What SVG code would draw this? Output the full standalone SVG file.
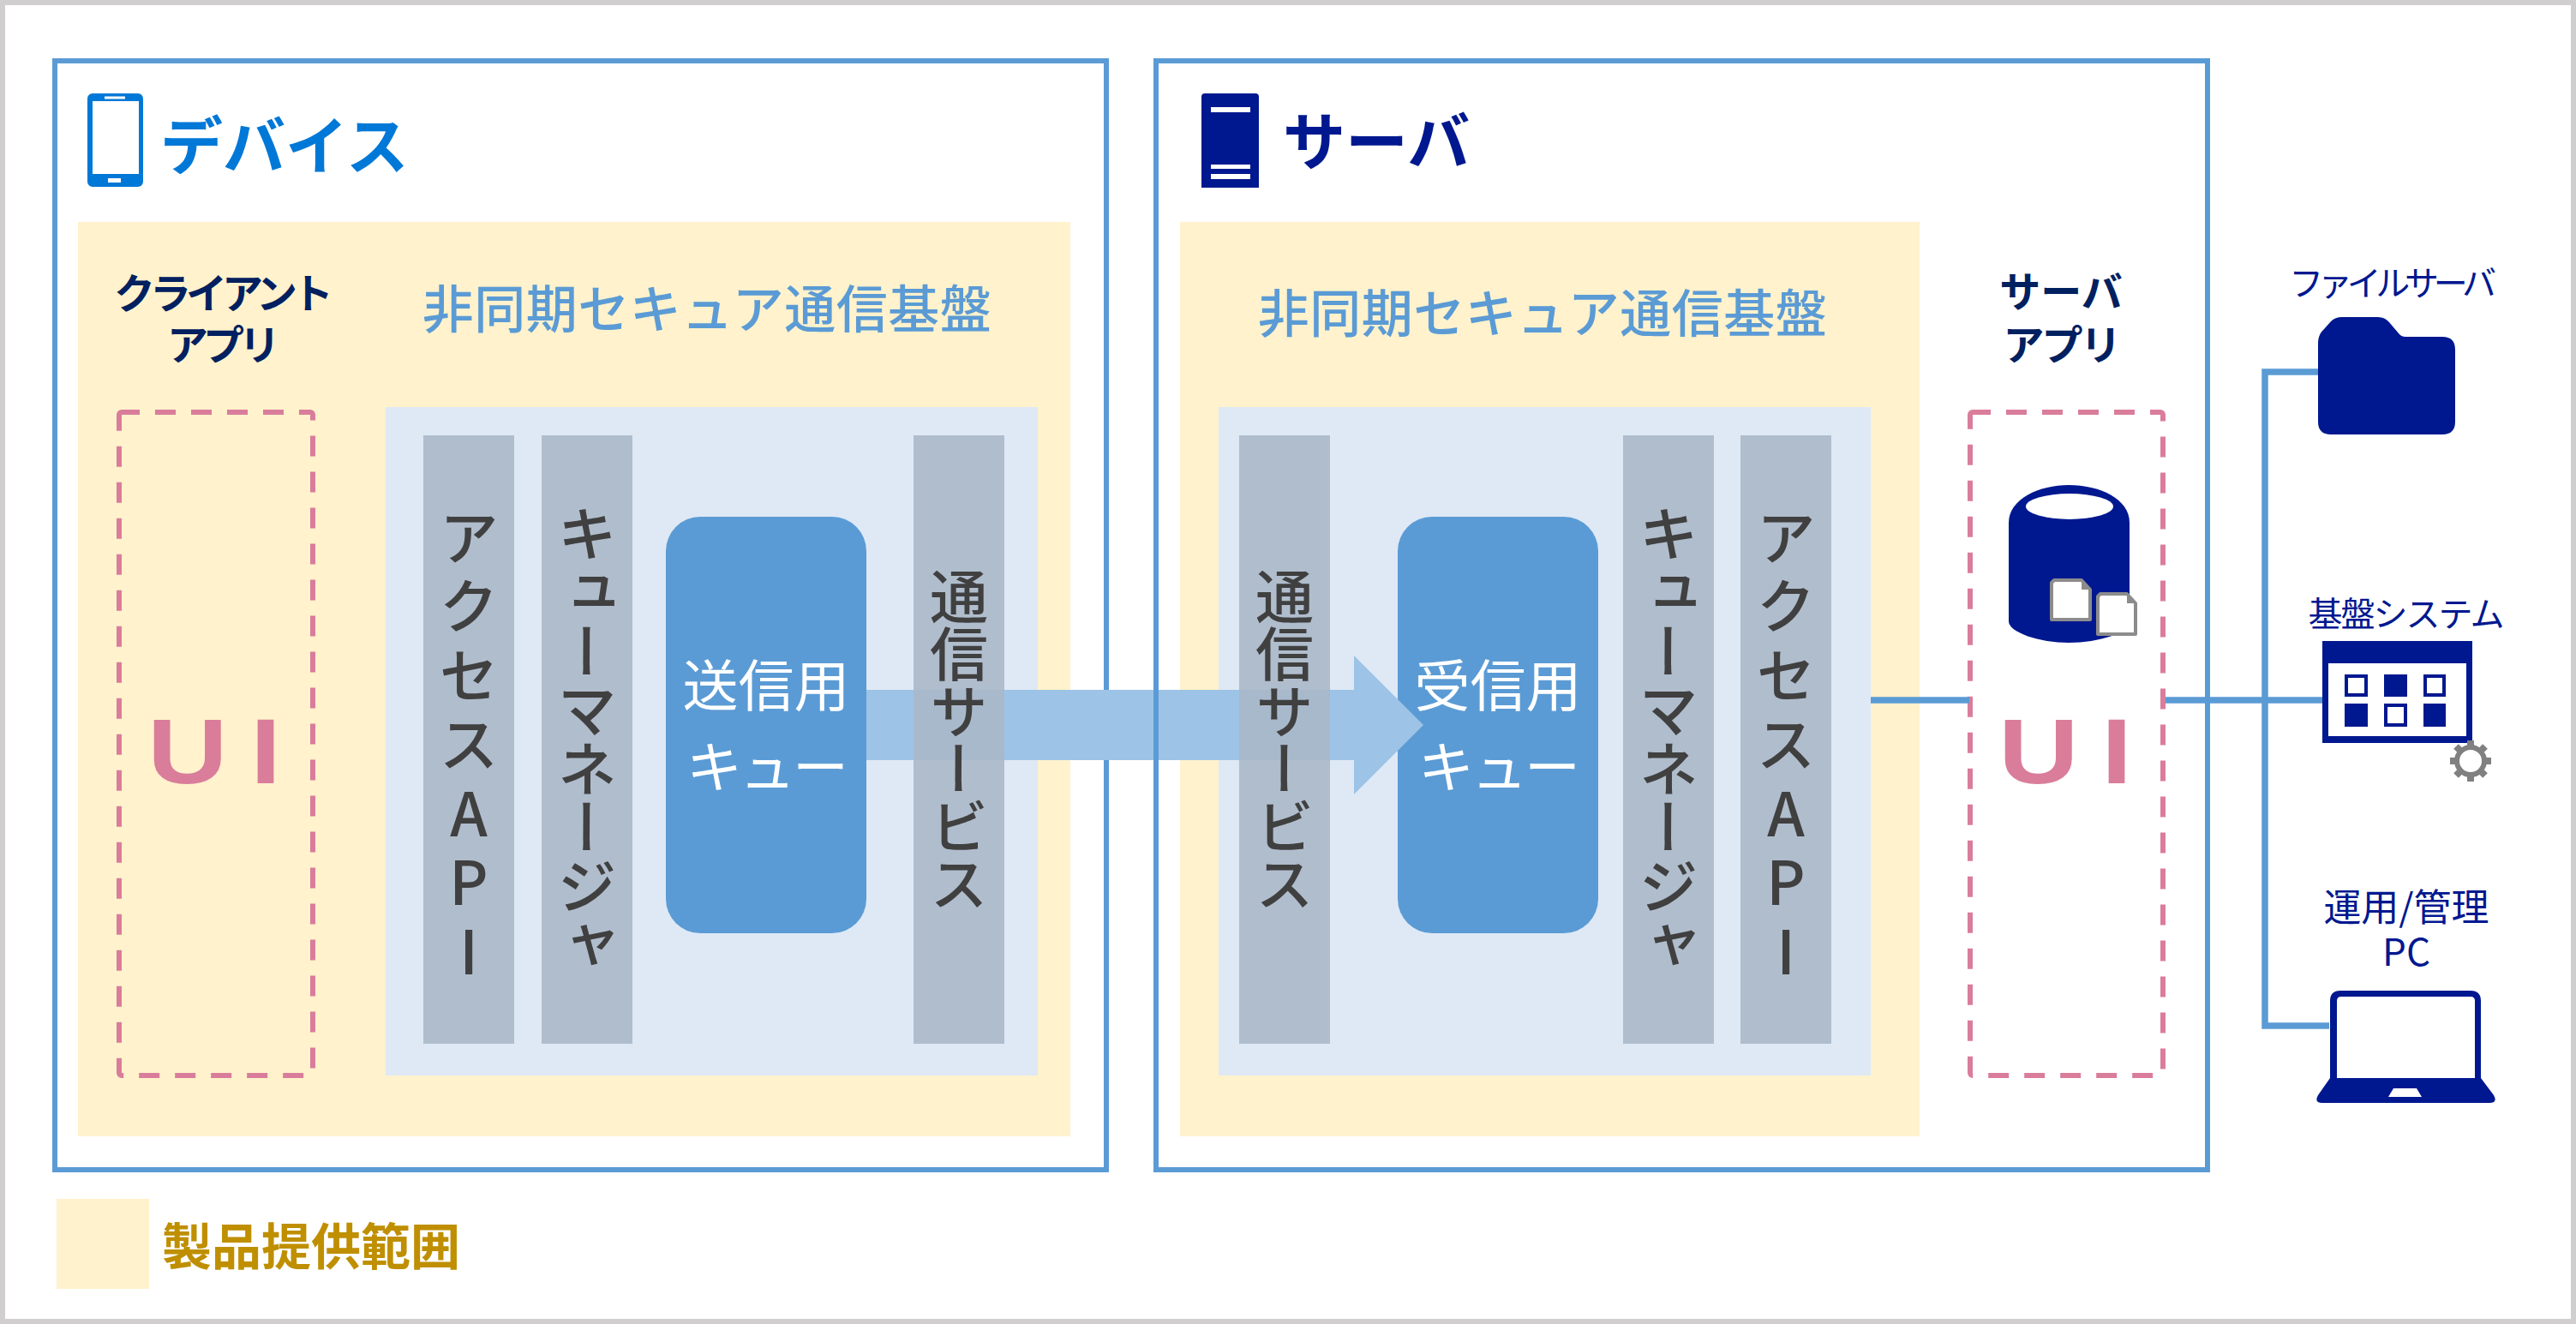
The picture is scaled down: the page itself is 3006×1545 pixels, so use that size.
<svg xmlns="http://www.w3.org/2000/svg" width="3006" height="1545" viewBox="0 0 3006 1545">
<style>
text{font-family:"Noto Sans CJK JP","Noto Sans",sans-serif}
.frame{fill:none;stroke:#5B9BD5;stroke-width:6}
.prod{fill:#FFF2CC}
.lite{fill:#DEE9F5}
.bar{fill:#ABB8C9;fill-opacity:.9}
.queue{fill:#5B9BD5}
.dash{fill:none;stroke:#D97D9B;stroke-width:6;stroke-dasharray:24 18;stroke-dashoffset:3}
.ui{font-size:108px;font-weight:700;fill:#D97D9B;font-family:"Liberation Sans",sans-serif}
.ttl{font-size:60px;font-weight:500;fill:#5B9BD5;text-anchor:middle;letter-spacing:.5px}
.v{font-size:70px;fill:#404040;writing-mode:vertical-rl;text-orientation:upright;font-weight:500}
.q{font-size:65px;fill:#fff;text-anchor:middle}
.app{font-size:48px;font-weight:700;fill:#002060;text-anchor:middle;letter-spacing:-6px}
.rl{font-size:40px;fill:#00188F;text-anchor:middle}
.navy{fill:#00188F}
.wire{fill:none;stroke:#5B9BD5;stroke-width:7.5}
</style>
<rect width="3006" height="1545" fill="#D0CECE"/>
<rect x="6" y="6" width="2994" height="1533" fill="#fff"/>

<g id="device-frame"><rect class="frame" x="64" y="71" width="1227" height="1294"/></g>
<g id="device-product"><rect class="prod" x="91" y="259" width="1158" height="1067"/><rect class="lite" x="450" y="475" width="761" height="780"/></g>
<g id="server-product"><rect class="prod" x="1377" y="259" width="863" height="1067"/><rect class="lite" x="1422" y="475" width="761" height="780"/></g>

<g id="device-title">
<path fill="#0078D7" fill-rule="evenodd" d="M108 109H161a6 6 0 0 1 6 6V212a6 6 0 0 1-6 6H108a6 6 0 0 1-6-6V115a6 6 0 0 1 6-6ZM108 118V203H162V118ZM122 112.500V115.500H146V112.500ZM126 208V213H141V208Z"/>
<text x="187" y="197" font-size="73" font-weight="700" fill="#0078D7">デバイス</text>
</g>
<g id="server-title">
<path class="navy" fill-rule="evenodd" d="M1406 109H1465a4 4 0 0 1 4 4V219H1402V113a4 4 0 0 1 4-4ZM1413 125V131H1459V125ZM1413 192V197H1459V192ZM1413 203V209H1459V203Z"/>
<text x="1497" y="192" font-size="73" font-weight="700" fill="#00188F">サーバ</text>
</g>

<g id="client-app">
<text class="app"><tspan x="258" y="360">クライアント</tspan><tspan x="258" y="420">アプリ</tspan></text>
<rect class="dash" x="139" y="481" width="226" height="774" rx="3"/>
<text class="ui" transform="translate(172,914) scale(1.2,1)" x="0 0 100" y="0">U I</text>
</g>
<g id="server-app">
<text class="app"><tspan x="2405" y="358" style="letter-spacing:0">サーバ</tspan><tspan x="2405" y="420" style="letter-spacing:-3px">アプリ</tspan></text>
<rect class="dash" x="2299" y="481" width="225" height="774" rx="3"/>
<text class="ui" transform="translate(2332,914) scale(1.2,1)" x="0 0 100" y="0">U I</text>
</g>

<g id="title-left"><text class="ttl" x="825" y="383">非同期セキュア通信基盤</text></g>
<g id="title-right"><text class="ttl" x="1800" y="388">非同期セキュア通信基盤</text></g>

<g id="recv-queue"><rect class="queue" x="1631" y="603" width="234" height="486" rx="40"/></g>
<g id="send-queue"><rect class="queue" x="777" y="603" width="234" height="486" rx="40"/></g>

<g id="connectors">
<path fill="#9DC3E6" d="M1011 805H1580V765L1661 846L1580 927V887H1011Z"/>
<path class="wire" d="M2183 817H2298M2527 817H2711M2709 434H2643V1197H2718"/>
</g>

<g id="server-frame"><rect class="frame" x="1349" y="71" width="1227" height="1294"/></g>

<g id="send-queue-label"><text class="q" x="894" y="824">送信用</text><text class="q" x="894" y="919" style="letter-spacing:-3px">キュー</text></g>
<g id="recv-queue-label"><text class="q" x="1748" y="824">受信用</text><text class="q" x="1748" y="919" style="letter-spacing:-3px">キュー</text></g>

<g id="left-access-api"><rect class="bar" x="494" y="508" width="106" height="710"/><text class="v" x="547" y="592" letter-spacing="10.500">アクセスAPI</text></g>
<g id="left-queue-manager"><rect class="bar" x="632" y="508" width="106" height="710"/><text class="v" x="685" y="588" letter-spacing="-1.500">キューマネージャ</text></g>
<g id="left-comm"><rect class="bar" x="1066" y="508" width="106" height="710"/><text class="v" x="1119" y="662" letter-spacing="-1" style="font-size:68px">通信サービス</text></g>
<g id="right-comm"><rect class="bar" x="1446" y="508" width="106" height="710"/><text class="v" x="1499" y="662" letter-spacing="-1" style="font-size:68px">通信サービス</text></g>
<g id="right-queue-manager"><rect class="bar" x="1894" y="508" width="106" height="710"/><text class="v" x="1947" y="588" letter-spacing="-1.500">キューマネージャ</text></g>
<g id="right-access-api"><rect class="bar" x="2031" y="508" width="106" height="710"/><text class="v" x="2084" y="592" letter-spacing="10.500">アクセスAPI</text></g>

<g id="database">
<path class="navy" d="M2344 610C2344 582 2380 566 2414 566C2450 566 2485 582 2485 610V725C2485 738 2450 750 2414 750C2380 750 2344 738 2344 725Z"/>
<ellipse cx="2415" cy="591" rx="51" ry="15" fill="#fff"/>
<path fill="#fff" stroke="#8C8C8C" stroke-width="4" stroke-linejoin="round" d="M2397 677H2429L2439 688V723H2394V680Z"/>
<path fill="#fff" stroke="#8C8C8C" stroke-width="4" stroke-linejoin="round" d="M2451 693H2482L2492 704V740H2448V696Z"/>
<path fill="#8C8C8C" d="M2429 677V688H2439ZM2482 693V704H2492Z"/>
</g>

<g id="file-server">
<text class="rl" x="2789" y="345" letter-spacing="-6.300">ファイルサーバ</text>
<path class="navy" d="M2705 402C2705 392 2708 388 2712 384L2720 375Q2725 370 2733 370H2775Q2783 370 2788 376L2799 389Q2802 393 2807 393H2850Q2865 393 2865 408V492Q2865 507 2850 507H2720Q2705 507 2705 492Z"/>
</g>

<g id="base-system">
<text class="rl" x="2807" y="731" letter-spacing="-2">基盤システム</text>
<path class="navy" fill-rule="evenodd" d="M2710 748H2885V867H2710ZM2717 774V859H2878V774Z"/>
<g class="navy">
<path fill-rule="evenodd" d="M2736 787H2763V813H2736ZM2740 791V809H2759V791ZM2828 787H2854V813H2828ZM2832 791V809H2850V791ZM2782 821H2809V848H2782ZM2786 825V844H2805V825Z"/>
<rect x="2782" y="787" width="27" height="26"/><rect x="2736" y="821" width="27" height="27"/><rect x="2828" y="821" width="26" height="27"/>
</g>
<circle cx="2883" cy="888" r="16" fill="none" stroke="#808080" stroke-width="6"/>
<path fill="none" stroke="#808080" stroke-width="8" d="M2883 864V870M2883 906V912M2859 888H2865M2901 888H2907M2866 871L2870 875M2896 901L2900 905M2900 871L2896 875M2870 901L2866 905"/>
</g>

<g id="ops-pc">
<text class="rl" style="font-size:44px"><tspan x="2808" y="1075">運用/管理</tspan><tspan x="2808" y="1127">PC</tspan></text>
<path class="navy" fill-rule="evenodd" d="M2731 1156H2883Q2895 1156 2895 1168V1258L2910 1278Q2915 1287 2905 1287H2710Q2700 1287 2705 1278L2719 1258V1168Q2719 1156 2731 1156ZM2732 1163Q2727 1163 2727 1168V1258H2888V1168Q2888 1163 2883 1163ZM2793 1270L2787 1280H2826L2820 1270Z"/>
</g>

<g id="legend">
<rect class="prod" x="66" y="1399" width="108" height="105"/>
<text x="189" y="1476" font-size="58" font-weight="700" fill="#BF8F00">製品提供範囲</text>
</g>
</svg>
